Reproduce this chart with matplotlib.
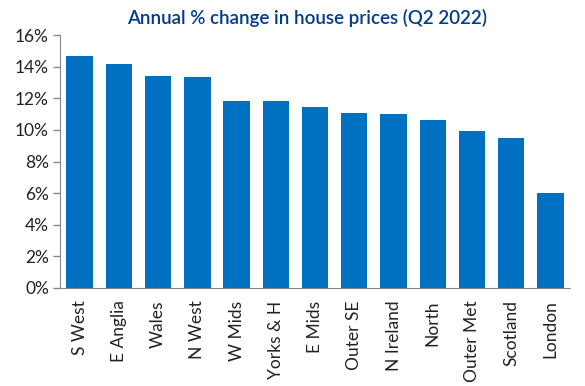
import matplotlib.pyplot as plt
from matplotlib.ticker import FuncFormatter

# Regions and annual % change in house prices, Q2 2022
regions = ['S West', 'E Anglia', 'Wales', 'N West', 'W Mids', 'Yorks & H', 'E Mids',
           'Outer SE', 'N Ireland', 'North', 'Outer Met', 'Scotland', 'London']
change = [14.7, 14.2, 13.4, 13.35, 11.85, 11.8, 11.45, 11.1, 11.0, 10.6, 9.95, 9.5, 6.0]
yticks = [0, 2, 4, 6, 8, 10, 12, 14, 16]

plt.rcParams['font.family'] = ['Lato', 'DejaVu Sans']

fig = plt.figure(figsize=(5.85, 3.86), dpi=100)
ax = fig.add_axes([0.1026, 0.254, 0.872, 0.655])

ax.bar(range(len(regions)), change, width=0.67, color='#0070C0')

ax.set_xlim(-0.5, len(regions) - 0.5)
ax.set_ylim(0, 16)
ax.set_yticks(yticks)
ax.yaxis.set_major_formatter(FuncFormatter(lambda v, _: f'{v:.0f}%'))
ax.set_xticks(range(len(regions)))
ax.set_xticklabels(regions, rotation=90)

ax.tick_params(axis='x', length=0, pad=9, labelsize=12.5, colors='#222222')
ax.tick_params(axis='y', length=5, width=1, color='#888888', labelsize=12.5,
               labelcolor='#222222', pad=3)

for side in ['top', 'right']:
    ax.spines[side].set_visible(False)
for side in ['left', 'bottom']:
    ax.spines[side].set_color('#888888')

fig.text(0.524, 0.937, 'Annual % change in house prices (Q2 2022)', ha='center',
         fontsize=13.5, fontweight='semibold', color='#003C8C')

fig.savefig('out.png', dpi=100)
